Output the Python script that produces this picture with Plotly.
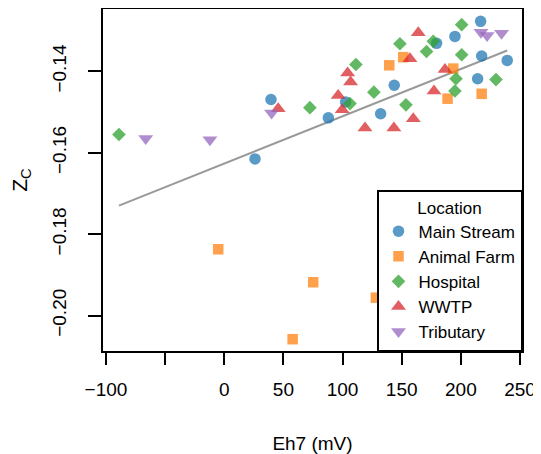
import numpy as np
import plotly.graph_objects as go

# Data (Eh7 in mV, Z_C)
main_x = [26, 39.5, 88, 102.6, 132.2, 143.7, 179.5, 195, 216.7, 217.6, 214.2, 239.2]
main_y = [-0.1615, -0.1469, -0.1514, -0.1475, -0.1504, -0.1434, -0.1331, -0.1314, -0.1277, -0.1362, -0.1418, -0.1373]

farm_x = [-5.1, 57.8, 75.2, 128.2, 159.8, 139.5, 151.3, 188.8, 193.6, 217.6]
farm_y = [-0.1837, -0.2058, -0.1918, -0.1956, -0.1710, -0.1385, -0.1365, -0.1467, -0.1393, -0.1455]

hosp_x = [-89, 72.4, 106.3, 111.3, 126.5, 148.5, 153.6, 171, 176.7, 195.9, 195, 200.7, 200.7, 229.7]
hosp_y = [-0.1555, -0.1489, -0.1479, -0.1383, -0.1451, -0.1332, -0.1482, -0.1351, -0.1326, -0.1418, -0.1448, -0.1359, -0.1285, -0.1420]

wwtp_x = [45.6, 96.3, 99.7, 104.3, 106.8, 119, 143.4, 157, 159.8, 164, 177.3, 186.6]
wwtp_y = [-0.1492, -0.1459, -0.1494, -0.1404, -0.1426, -0.1539, -0.1539, -0.1369, -0.1516, -0.1305, -0.1448, -0.1395]

trib_x = [-66.4, -12.1, 40, 217, 222.2, 234.4]
trib_y = [-0.1565, -0.1568, -0.1502, -0.1304, -0.1312, -0.1306]

x_ticks = [-100, -50, 0, 50, 100, 150, 200, 250]
x_tick_text = ["\u2212100", "", "0", "50", "100", "150", "200", "250"]
y_ticks = [-0.20, -0.18, -0.16, -0.14]
y_tick_text = ["\u22120.20", "\u22120.18", "\u22120.16", "\u22120.14"]

groups = [
    ("Main Stream", main_x, main_y, "circle", "#1f77b4", 11.5),
    ("Animal Farm", farm_x, farm_y, "square", "#ff7f0e", 10.5),
    ("Hospital", hosp_x, hosp_y, "diamond", "#2ca02c", 10.5),
    ("WWTP", wwtp_x, wwtp_y, "triangle-up", "#d62728", 13),
    ("Tributary", trib_x, trib_y, "triangle-down", "#9467bd", 13),
]

FONT = "Liberation Sans, Arial, Helvetica, sans-serif"
fig = go.Figure()

# regression line over all points
all_x = np.concatenate([np.array(g[1], float) for g in groups])
all_y = np.concatenate([np.array(g[2], float) for g in groups])
slope, intercept = np.polyfit(all_x, all_y, 1)
lx = np.array([all_x.min(), all_x.max()])
fig.add_trace(go.Scatter(x=lx, y=slope * lx + intercept, mode="lines",
                         line=dict(color="#9a9a9a", width=2), showlegend=False,
                         hoverinfo="skip"))

for name, xs, ys, sym, col, sz in groups:
    fig.add_trace(go.Scatter(x=xs, y=ys, mode="markers", name=name,
                             marker=dict(symbol=sym, color=col, size=sz, opacity=0.74,
                                         line=dict(width=0))))

fig.update_layout(
    width=533, height=446,
    margin=dict(l=95, r=19, t=1, b=103, autoexpand=False),
    paper_bgcolor="white", plot_bgcolor="white",
    font=dict(family=FONT, size=18, color="black"),
    legend=dict(x=1, y=0, xanchor="right", yanchor="bottom",
                bgcolor="white", bordercolor="black", borderwidth=1.5,
                font=dict(size=17), title=dict(text="Location", side="top center", font=dict(size=17)),
                itemwidth=30, tracegroupgap=0),
)
fig.update_xaxes(range=[-102.5, 251.7], tickvals=x_ticks, ticktext=x_tick_text,
                 showgrid=False, zeroline=False, showline=True, mirror=True, automargin=False,
                 linecolor="black", linewidth=1.5, ticks="outside", ticklen=12,
                 tickwidth=1.5, tickcolor="black", tickfont=dict(size=19), ticklabelstandoff=8,
                 title=dict(text="Eh7 (mV)", font=dict(size=19), standoff=38))
fig.update_yaxes(range=[-0.2087, -0.12466], tickvals=y_ticks, ticktext=y_tick_text,
                 showgrid=False, zeroline=False, showline=True, mirror=True, automargin=False,
                 linecolor="black", linewidth=1.5, ticks="outside", ticklen=13,
                 tickwidth=1.5, tickcolor="black", tickfont=dict(size=19), tickangle=-90,
                 ticklabelstandoff=15,
                 title=dict(text="Z<sub>C</sub>", font=dict(size=21), standoff=30))

fig.write_html("out.html")
